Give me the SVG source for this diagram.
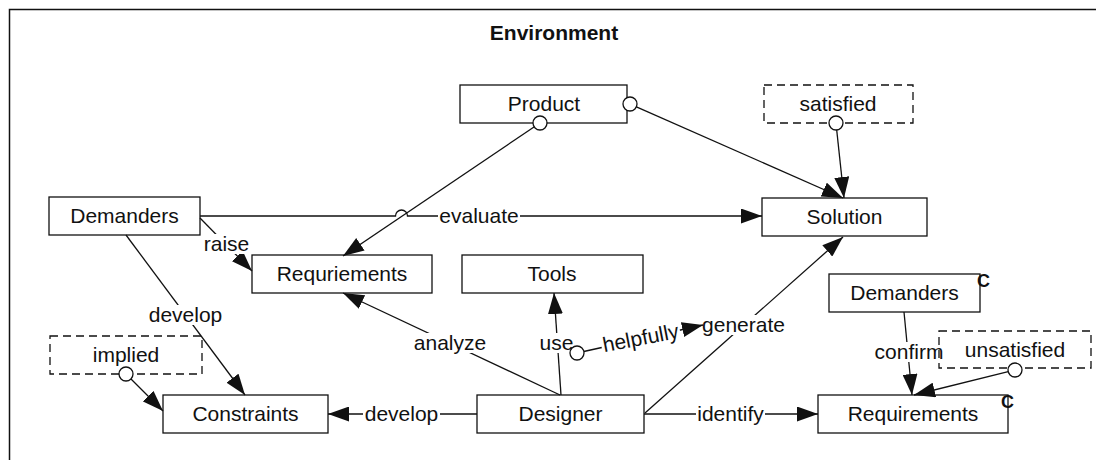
<svg xmlns="http://www.w3.org/2000/svg" width="1096" height="460" viewBox="0 0 1096 460">
  <style>
    text { font-family: "Liberation Sans", Arial, sans-serif; font-size: 21px; fill: #111; }
    .title { font-weight: bold; }
    .ctr { text-anchor: middle; }
    .mark { font-weight: bold; font-size: 18px; }
    .box { fill: #fff; stroke: #111; stroke-width: 1.3; }
    .dash { fill: none; stroke: #111; stroke-width: 1.3; stroke-dasharray: 8 5; }
    .edge { fill: none; stroke: #111; stroke-width: 1.3; }
    .arr { marker-end: url(#head); }
    .lbg { fill: #fff; stroke: none; }
    .port { fill: #fff; stroke: #111; stroke-width: 1.3; }
    .frame { fill: none; stroke: #111; stroke-width: 1.5; }
  </style>
  <defs>
    <marker id="head" markerUnits="userSpaceOnUse" markerWidth="21" markerHeight="15" refX="21" refY="7.5" orient="auto">
      <path d="M0,0 L21,7.5 L0,15 z" fill="#111"/>
    </marker>
  </defs>

  <rect width="1096" height="460" fill="#fff"/>

  <!-- environment frame (open to the right and bottom) -->
  <path class="frame" d="M9.5,460 V9.5 H1096"/>
  <text class="title ctr" x="554" y="40">Environment</text>

  <!-- nodes -->
  <g id="product"><rect class="box" x="460" y="85" width="167" height="38"/><text class="ctr" x="544" y="111">Product</text></g>
  <g id="satisfied"><rect class="dash" x="764" y="85" width="149" height="38"/><text class="ctr" x="838" y="111">satisfied</text></g>
  <g id="demanders"><rect class="box" x="49" y="197" width="151" height="38"/><text class="ctr" x="124.5" y="223">Demanders</text></g>
  <g id="solution"><rect class="box" x="762" y="198" width="165" height="38"/><text class="ctr" x="844.5" y="224">Solution</text></g>
  <g id="requriements"><rect class="box" x="252" y="255" width="180" height="38"/><text class="ctr" x="342" y="281">Requriements</text></g>
  <g id="tools"><rect class="box" x="462" y="255" width="181" height="38"/><text class="ctr" x="552" y="281">Tools</text></g>
  <g id="demanders-c"><rect class="box" x="829" y="274" width="151" height="38"/><text class="ctr" x="904.5" y="300">Demanders</text><text class="mark" x="977" y="287">C</text></g>
  <g id="implied"><rect class="dash" x="50" y="336" width="152" height="38"/><text class="ctr" x="126" y="362">implied</text></g>
  <g id="unsatisfied"><rect class="dash" x="939" y="331" width="152" height="37"/><text class="ctr" x="1015" y="356.5">unsatisfied</text></g>
  <g id="constraints"><rect class="box" x="163" y="395" width="165" height="38"/><text class="ctr" x="245.5" y="421">Constraints</text></g>
  <g id="designer"><rect class="box" x="477" y="395" width="167" height="38"/><text class="ctr" x="560.5" y="421">Designer</text></g>
  <g id="requirements-c"><rect class="box" x="818" y="395" width="190" height="38"/><text class="ctr" x="913" y="421">Requirements</text><text class="mark" x="1001" y="408">C</text></g>

  <!-- connectors -->
  <g id="connectors">
    <!-- Product -> Requriements -->
    <path class="edge arr" d="M534,127 L343,256"/>
    <!-- Product -> Solution -->
    <path class="edge arr" d="M636.4,106.8 L843,198"/>
    <!-- satisfied -> Solution -->
    <path class="edge arr" d="M836.7,130 L844,198"/>
    <!-- Demanders -evaluate-> Solution, hopping over the Product line -->
    <path class="edge arr" d="M200,216 H395.5 A6,6 0 0 1 407.5,216 H762"/>
    <rect class="lbg" x="438" y="206" width="82" height="20"/>
    <text class="ctr" x="479" y="223">evaluate</text>
    <!-- Demanders -raise-> Requriements -->
    <path class="edge arr" d="M200,218 L252,271"/>
    <rect class="lbg" x="203" y="234" width="48" height="20"/>
    <text class="ctr" x="226.5" y="251">raise</text>
    <!-- Demanders -develop-> Constraints -->
    <path class="edge arr" d="M126,235 L245,395"/>
    <rect class="lbg" x="147" y="305" width="77" height="20"/>
    <text class="ctr" x="185.5" y="322">develop</text>
    <!-- implied -> Constraints -->
    <path class="edge arr" d="M131,379 L163,411"/>
    <!-- Designer -develop-> Constraints -->
    <path class="edge arr" d="M477,414 H328"/>
    <rect class="lbg" x="363" y="404" width="77" height="20"/>
    <text class="ctr" x="401.5" y="421">develop</text>
    <!-- Designer -analyze-> Requriements -->
    <path class="edge arr" d="M560,395 L343,293"/>
    <rect class="lbg" x="412" y="333" width="76" height="20"/>
    <text class="ctr" x="450" y="350">analyze</text>
    <!-- Designer -use-> Tools -->
    <path class="edge arr" d="M561,395 L554,293"/>
    <rect class="lbg" x="538" y="333" width="37" height="20"/>
    <text class="ctr" x="556.5" y="350">use</text>
    <!-- Designer -generate-> Solution -->
    <path class="edge arr" d="M645,413 L843,237"/>
    <rect class="lbg" x="702" y="315" width="84" height="20"/>
    <text class="ctr" x="743.5" y="332">generate</text>
    <!-- Designer -identify-> Requirements -->
    <path class="edge arr" d="M644,414 H818"/>
    <rect class="lbg" x="696" y="404" width="69" height="20"/>
    <text class="ctr" x="730.5" y="421">identify</text>
    <!-- Demanders -confirm-> Requirements -->
    <path class="edge arr" d="M904,312 L912,395"/>
    <rect class="lbg" x="874" y="342" width="64" height="20"/>
    <text class="ctr" x="909" y="359">confirm</text>
    <!-- unsatisfied -> Requirements -->
    <path class="edge arr" d="M1008.2,371.7 L914,395"/>
    <!-- use -helpfully-> generate -->
    <path class="edge arr" d="M583.8,351.5 L703,325"/>
    <g transform="rotate(-11 642 345)">
      <rect class="lbg" x="602" y="330" width="80" height="20"/>
      <text class="ctr" x="642" y="345">helpfully</text>
    </g>
    <!-- attachment circles -->
    <circle class="port" cx="540" cy="123" r="7"/>
    <circle class="port" cx="630" cy="104" r="7"/>
    <circle class="port" cx="836" cy="123" r="7"/>
    <circle class="port" cx="126" cy="374" r="7"/>
    <circle class="port" cx="1015" cy="370" r="7"/>
    <circle class="port" cx="577" cy="353" r="7"/>
  </g>
</svg>
